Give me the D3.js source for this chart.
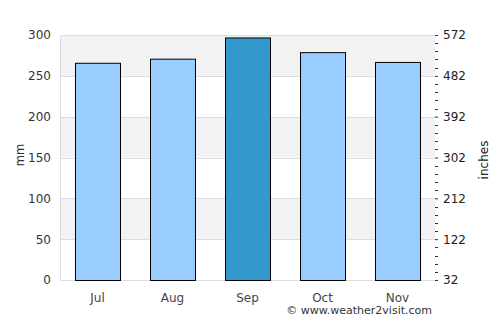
<!DOCTYPE html>
<html>
<head>
<meta charset="utf-8">
<script src="https://cdn.jsdelivr.net/npm/d3@7"></script>
<style>
  body { margin: 0; background: #fff; }
  svg text { font-family: "DejaVu Sans", sans-serif; }
</style>
</head>
<body>
<svg id="chart" width="500" height="325"></svg>
<script>
// monthly rainfall
const months = ["Jul", "Aug", "Sep", "Oct", "Nov"];
const rainMm = [266, 271, 297, 279, 267];
const highlightMonth = "Sep";
const leftTicks = [0, 50, 100, 150, 200, 250, 300];
const rightTickLabels = ["32", "122", "212", "302", "392", "482", "572"];

const svg = d3.select("#chart"),
    margin = { top: 35, right: 65, bottom: 45, left: 60 },
    width = +svg.attr("width") - margin.left - margin.right,
    height = +svg.attr("height") - margin.top - margin.bottom;

const g = svg.append("g").attr("transform", `translate(${margin.left},${margin.top})`);

const x = d3.scaleBand().domain(months).range([0, width]).paddingInner(0.4).paddingOuter(0.2);
const y = d3.scaleLinear().domain([0, 300]).range([height, 0]);

// alternating bands
const bands = d3.range(0, 300, 50);
g.selectAll(".band")
    .data(bands)
    .enter().append("rect")
    .attr("x", 0)
    .attr("width", width)
    .attr("y", d => y(d + 50))
    .attr("height", d => y(d) - y(d + 50))
    .attr("fill", (d, i) => i % 2 === 1 ? "#f2f2f2" : "#fff");

// grid lines
g.selectAll(".grid")
    .data(leftTicks)
    .enter().append("line")
    .attr("x1", 0).attr("x2", width)
    .attr("y1", d => Math.round(y(d)) + 0.5).attr("y2", d => Math.round(y(d)) + 0.5)
    .attr("stroke", "#ddd");

g.append("line")
    .attr("x1", 0.5).attr("x2", 0.5).attr("y1", 0).attr("y2", height)
    .attr("stroke", "#ddd");

// bars
g.selectAll(".bar")
    .data(months)
    .enter().append("rect")
    .attr("x", d => Math.round(x(d)) + 0.5)
    .attr("width", Math.round(x.bandwidth()))
    .attr("y", (d, i) => y(rainMm[i]) + 0.5)
    .attr("height", (d, i) => height - y(rainMm[i]))
    .attr("fill", d => d === highlightMonth ? "#3399cc" : "#99ccff")
    .attr("stroke", "#000")
    .attr("stroke-width", 1);

// left axis
const leftAxis = d3.axisLeft(y).tickValues(leftTicks).tickSize(0).tickPadding(9);
const la = g.append("g").call(leftAxis);
la.select(".domain").remove();
la.selectAll("text").attr("fill", "#333").style("font-size", "12px");

// right axis: major labels + minor ticks
const yr = d3.scalePoint().domain(rightTickLabels).range([height, 0]);
const rightAxis = d3.axisRight(yr).tickSize(3).tickPadding(5);
const ra = g.append("g").attr("transform", `translate(${width},0)`).call(rightAxis);
ra.select(".domain").remove();
ra.selectAll("line").attr("stroke", "#333");
ra.selectAll("text").attr("fill", "#222").style("font-size", "12px");

const minor = d3.range(0, 301, 10).filter(v => v % 50 !== 0);
g.selectAll(".minor")
    .data(minor)
    .enter().append("line")
    .attr("x1", width).attr("x2", width + 3)
    .attr("y1", d => Math.round(y(d)) + 0.5).attr("y2", d => Math.round(y(d)) + 0.5)
    .attr("stroke", "#333");

// x axis
const xAxis = d3.axisBottom(x).tickSize(0).tickPadding(13);
const xa = g.append("g").attr("transform", `translate(0,${height})`).call(xAxis);
xa.select(".domain").remove();
xa.selectAll("text").attr("fill", "#444").style("font-size", "12px");

// axis titles
svg.append("text")
    .attr("transform", `translate(24,155) rotate(-90)`)
    .attr("text-anchor", "middle")
    .attr("fill", "#333")
    .style("font-size", "11.5px")
    .text("mm");

svg.append("text")
    .attr("transform", `translate(488,160) rotate(-90)`)
    .attr("text-anchor", "middle")
    .attr("fill", "#222")
    .style("font-size", "12px")
    .text("inches");

svg.append("text")
    .attr("x", 432)
    .attr("y", 314)
    .attr("text-anchor", "end")
    .attr("fill", "#333")
    .style("font-size", "11px")
    .text("© www.weather2visit.com");
</script>
</body>
</html>
